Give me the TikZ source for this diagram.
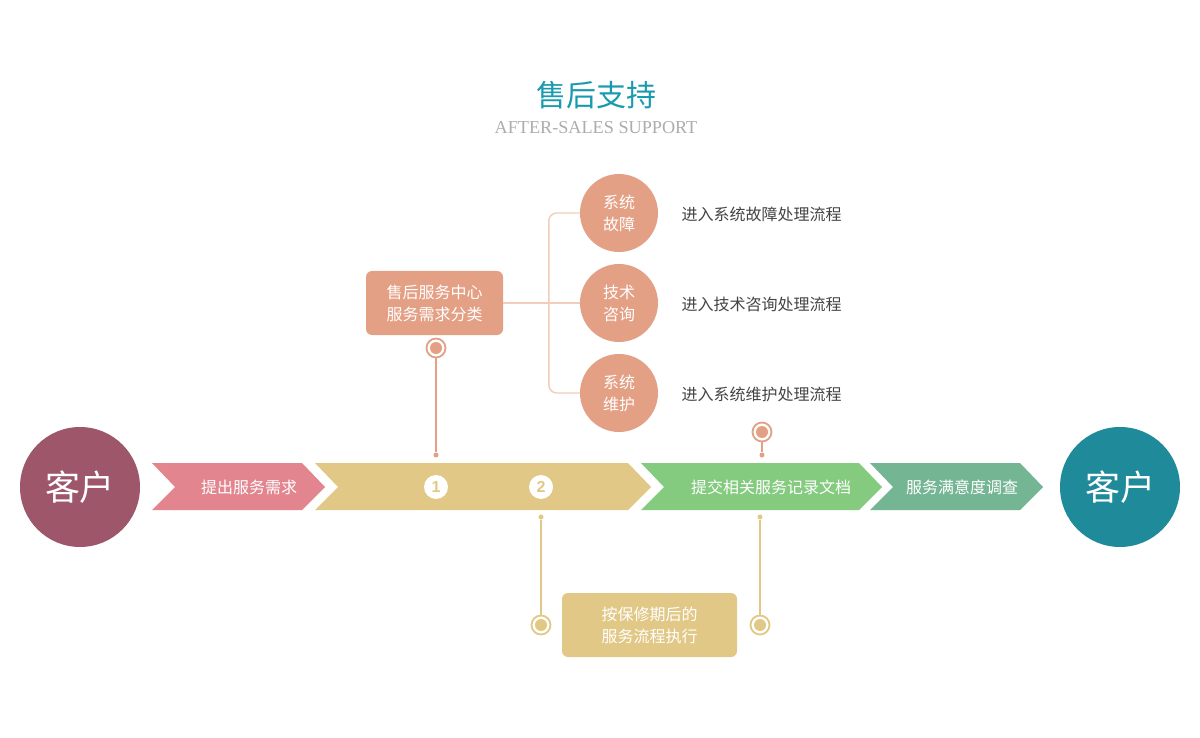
\documentclass[tikz,border=0pt]{standalone}
\usepackage{fontspec}
\setmainfont{Noto Sans CJK SC}
\newfontfamily\enserif{Liberation Serif}
\newfontfamily\ensans{Liberation Sans}
\usetikzlibrary{positioning}
\definecolor{mauve}{HTML}{9E566B}
\definecolor{deepteal}{HTML}{1F8A99}
\definecolor{titleteal}{HTML}{1A9AAF}
\definecolor{rose}{HTML}{E3858F}
\definecolor{wheat}{HTML}{E2C886}
\definecolor{leaf}{HTML}{84CA7F}
\definecolor{sage}{HTML}{74B594}
\definecolor{salmon}{HTML}{E4A085}
\definecolor{branchline}{HTML}{F2CDB9}
\definecolor{labelgray}{HTML}{444444}
\tikzset{
  txt/.style={font=\fontsize{16}{22}\selectfont},
  client/.style={circle, minimum size=120pt, inner sep=0pt, text=white, font=\fontsize{35}{40}\selectfont},
  wtext/.style={txt, text=white},
  box/.style={txt, rectangle, rounded corners=6pt, fill=#1, text=white, align=center, minimum height=64pt},
  kind/.style={txt, circle, fill=salmon, text=white, align=center, minimum size=78pt, inner sep=0pt},
  num/.style={circle, fill=white, text=wheat, minimum size=24pt, inner sep=0pt, font=\ensans\bfseries\fontsize{16}{16}\selectfont},
  ring/.style={circle, draw=#1, line width=1.8pt, fill=white, minimum size=19pt, inner sep=0pt,
    path picture={\fill[#1] (path picture bounding box.center) circle (6pt);}},
  dot/.style={circle, fill=#1, minimum size=5pt, inner sep=0pt},
  drop/.style={draw=#1, line width=1.6pt}
}
\begin{document}
\begin{tikzpicture}[x=1pt, y=-1pt]
\fill[white] (0,0) rectangle (1200,738);
\useasboundingbox (0,0) rectangle (1200,738);

\node[font=\fontsize{30}{36}\selectfont, text=titleteal] (title) at (596,95) {售后支持};
\node[font=\enserif\fontsize{18.2}{20}\selectfont, text=black!32] (sub) at (596,128) {AFTER-SALES SUPPORT};

\foreach \l/\r/\c in {152/302/rose, 315/628/wheat, 641/859/leaf, 870/1020/sage}
  \fill[\c] (\l,463) -- (\r,463) -- (\r+23,487) -- (\r,510) -- (\l,510) -- (\l+23,487) -- cycle;

\node[client, fill=mauve] (c1) at (80,487) {客户};
\node[client, fill=deepteal] (c2) at (1120,487) {客户};
\node[wtext] (s1) at (249,487) {提出服务需求};
\node[num] (n1) at (436,487) {1};
\node[num] (n2) at (541,487) {2};
\node[wtext] (s3) at (771,487) {提交相关服务记录文档};
\node[wtext] (s4) at (962,487) {服务满意度调查};

\node[box=salmon, minimum width=137pt] (cls) at (434.5,303) {售后服务中心\\服务需求分类};
\node[kind] (f1) at (619,213) {系统\\故障};
\node[kind] (f2) at (619,303) {技术\\咨询};
\node[kind] (f3) at (619,393) {系统\\维护};
\node[txt, text=labelgray, anchor=west] (l1) at (678,214) {进入系统故障处理流程};
\node[txt, text=labelgray, anchor=west] (l2) at (678,304) {进入技术咨询处理流程};
\node[txt, text=labelgray, anchor=west] (l3) at (678,394) {进入系统维护处理流程};
\draw[branchline, line width=1.4pt, rounded corners=8pt] (f1.west) -- ++(-31,0) |- (f3.west);
\draw[branchline, line width=1.4pt] (cls.east) -- (f2.west);

\node[ring=salmon] (r1) at (436,348) {};
\node[dot=salmon] (d1) at (436,455) {};
\draw[drop=salmon] (r1) -- (d1);
\node[ring=salmon] (r2) at (762,432) {};
\node[dot=salmon] (d2) at (762,455) {};
\draw[drop=salmon] (r2) -- (d2);

\node[box=wheat, minimum width=175pt] (exec) at (649.5,625) {按保修期后的\\服务流程执行};
\node[dot=wheat] (d3) at (541,517) {};
\node[ring=wheat] (r3) at (541,625) {};
\draw[drop=wheat] (d3) -- (r3);
\node[dot=wheat] (d4) at (760,517) {};
\node[ring=wheat] (r4) at (760,625) {};
\draw[drop=wheat] (d4) -- (r4);
\end{tikzpicture}
\end{document}
